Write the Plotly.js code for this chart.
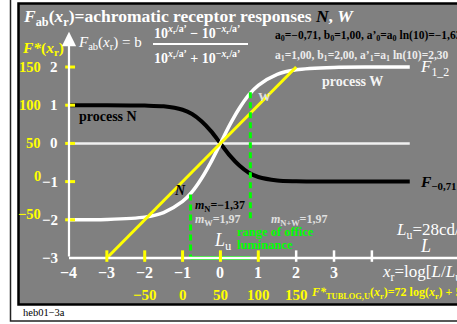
<!DOCTYPE html>
<html>
<head>
<meta charset="utf-8">
<script src="https://cdn.plot.ly/plotly-3.0.1.min.js"></script>
<style>html,body{margin:0;padding:0;background:#fff}</style>
</head>
<body>
<div id="chart" style="width:457px;height:324px"></div>
<script>
// curves (x = log[L/Lu])
const xCurve = [-4, -3, -2, -1.5, -1, -0.75, -0.5, -0.25, 0, 0.25, 0.5, 0.75, 1, 1.5, 2, 3, 4, 5];
const yN = [1, 1, 0.99, 0.97, 0.88, 0.77, 0.58, 0.32, 0, -0.32, -0.58, -0.77, -0.88, -0.97, -0.99, -1, -1, -1];
const yW = [-2, -1.99, -1.93, -1.81, -1.52, -1.27, -0.92, -0.49, 0, 0.49, 0.92, 1.27, 1.52, 1.81, 1.93, 1.99, 2, 2];
const xYellow = [-3, 2];
const yYellow = [-3, 2];
const xZero = [-4, 5];
const yZero = [0, 0];
const officeX = [-0.79, 0.79];
const officeY = [-1.34, 1.34];
const officeBottom = [-3, -2.0];

const xTicks = [-4, -3, -2, -1, 0, 1, 2, 3];
const xTickMarksYellow = [-3, -2, -1, 0, 1];
const xTickMarksWhite = [2, 3, 4];
const yTicks = [2, 1, 0, -1, -2, -3];
const yTickMarks = [2, 1, 0, -1, -2];
const fLeft = [150, 100, 50, 0, -50];
const fBottom = [-50, 0, 50, 100, 150];

const W = 457, H = 324;
const SERIF = 'Liberation Serif, Times New Roman, serif';
const px = p => p / W, py = p => 1 - p / H;
const minus = v => String(v).replace('-', '\u2212');

function ann(x, y, text, size, color, extra) {
  return Object.assign({xref:'paper', yref:'paper', x:px(x), y:py(y), text, showarrow:false,
    xanchor:'left', yanchor:'middle', font:{family:SERIF, size, color}}, extra || {});
}

const line = (x, y, color, width, extra) => Object.assign({type:'scatter', mode:'lines', x, y,
  line:{color, width}, hoverinfo:'skip'}, extra || {});

const traces = [
  line(xZero, yZero, '#f0f0f0', 2.5),
  line(xCurve, yN, '#000', 4, {line:{color:'#000', width:4, shape:'spline', smoothing:0.8}}),
  line(xCurve, yW, '#fff', 3.5, {line:{color:'#fff', width:3.5, shape:'spline', smoothing:0.8}}),
  line(xYellow, yYellow, '#ffff00', 3),
  line([officeX[0], officeX[0]], [officeY[0], officeBottom[0]], '#00ff00', 3, {line:{color:'#00ff00', width:3, dash:'6px,4px'}}),
  line([officeX[1], officeX[1]], [officeY[1], officeBottom[1]], '#00ff00', 3, {line:{color:'#00ff00', width:3, dash:'6px,4px'}}),
  line(officeX, [officeBottom[0], officeBottom[0]], '#00ff00', 3.5)
];

const shapes = [
  {type:'rect', xref:'paper', yref:'paper', x0:px(10.5), x1:px(480), y0:py(-5), y1:py(321), line:{color:'#222', width:1.5}, layer:'below'},
  {type:'rect', xref:'paper', yref:'paper', x0:px(18.5), x1:px(480), y0:py(3.5), y1:py(304.5), fillcolor:'#808080', line:{color:'#000', width:2.5}, layer:'below'},
  // x axis
  {type:'line', xref:'x', yref:'y', x0:-4, x1:7, y0:-3, y1:-3, line:{color:'#fff', width:2.5}},
  // fraction bar
  {type:'line', xref:'paper', yref:'paper', x0:px(153), x1:px(248), y0:py(44), y1:py(44), line:{color:'#fff', width:2}}
];
xTickMarksYellow.forEach(t => shapes.push({type:'line', xref:'x', yref:'y', x0:t, x1:t, y0:-2.8, y1:-3.1, line:{color:'#ffff00', width:3}}));
xTickMarksWhite.forEach(t => shapes.push({type:'line', xref:'x', yref:'y', x0:t, x1:t, y0:-2.8, y1:-3.1, line:{color:'#fff', width:2.5}}));
yTickMarks.forEach(t => shapes.push({type:'line', xref:'x', yref:'y', x0:-4.1, x1:-3.84, y0:t, y1:t, line:{color:'#ffff00', width:3}}));

const annotations = [
  // y axis with arrow
  {xref:'x', yref:'y', axref:'x', ayref:'y', x:-4, y:2.92, ax:-4, ay:-3, text:'', showarrow:true,
   arrowhead:2, arrowsize:1.3, arrowwidth:2.2, arrowcolor:'#fff'},
  ann(21, 17, '<b><i>F</i><sub>ab</sub>(<i>x</i><sub>r</sub>)=achromatic receptor responses <i><span style="color:#000">N</span></i>, <i>W</i></b>', 17.5, '#fff'),
  ann(20, 48, '<b><i>F*</i>(<i>x</i><sub>r</sub>)</b>', 15.5, '#ffff00'),
  ann(76, 43, '<i>F</i><sub>ab</sub>(<i>x</i><sub>r</sub>) = b', 15, '#fff'),
  ann(152, 32, '<b>10<sup><i>x</i><sub>r</sub>/a’</sup> − 10<sup>−<i>x</i><sub>r</sub>/a’</sup></b>', 14, '#fff'),
  ann(152, 57, '<b>10<sup><i>x</i><sub>r</sub>/a’</sup> + 10<sup>−<i>x</i><sub>r</sub>/a’</sup></b>', 14, '#fff'),
  ann(273, 36, '<b>a<sub>0</sub>=−0,71, b<sub>0</sub>=1,00, a’<sub>0</sub>=a<sub>0</sub> ln(10)=−1,63</b>', 11.5, '#000'),
  ann(273, 56, '<b>a<sub>1</sub>=1,00, b<sub>1</sub>=2,00, a’<sub>1</sub>=a<sub>1</sub> ln(10)=2,30</b>', 11.5, '#ececec'),
  ann(418, 68, '<i>F</i><sub>1_2</sub>', 17, '#fff'),
  ann(320, 81, '<b>process W</b>', 14, '#f4f4f4'),
  ann(77, 116, '<b>process N</b>', 14, '#000'),
  ann(256, 96, '<b>W</b>', 13, '#e0e0e0'),
  ann(172, 191, '<b><i>N</i></b>', 14, '#000'),
  ann(418, 182, '<i><b>F</b></i><sub><b>−0,71</b></sub>', 15.5, '#000'),
  ann(193, 206, '<b><i>m</i><sub>N</sub>=−1,37</b>', 12, '#000'),
  ann(193, 220, '<b><i>m</i><sub>W</sub>=1,97</b>', 12, '#e0e0e0'),
  ann(269, 220, '<b><i>m</i><sub>N+W</sub>=1,97</b>', 12, '#e0e0e0'),
  ann(235, 232, '<b>range of office</b>', 12.5, '#00ff00'),
  ann(235, 245, '<b>luminance</b>', 12.5, '#00ff00'),
  ann(212, 241, '<i>L</i><sub>u</sub>', 18, '#fff'),
  ann(394, 229, '<i>L</i><sub>u</sub>=28cd/m<sup>2</sup>', 17, '#fff'),
  ann(418, 246, '<i>L</i>', 18, '#fff'),
  ann(380, 273, '<i>x</i><sub>r</sub>=log[<i>L</i>/<i>L</i><sub>u</sub>]', 17, '#fff'),
  ann(309, 293, '<b><i>F*</i><sub>TUBLOG,U</sub>(<i>x</i><sub>r</sub>)=72 log(<i>x</i><sub>r</sub>) + 50</b>', 12, '#ffff00'),
  ann(21, 312, 'heb01−3a', 10.5, '#000')
];

xTicks.forEach(t => annotations.push({xref:'x', yref:'y', x:t, y:-3, yshift:-15, text:'<b>' + minus(t) + '</b>',
  showarrow:false, xanchor:'center', yanchor:'middle', font:{family:SERIF, size:16, color:'#fff'}}));
yTicks.forEach(t => annotations.push({xref:'x', yref:'y', x:-4, y:t, xshift:-9, text:'<b>' + minus(t) + '</b>',
  showarrow:false, xanchor:'right', yanchor:'middle', font:{family:SERIF, size:15, color:'#fff'}}));
fLeft.forEach(f => annotations.push({xref:'x', yref:'y', x:-4, y:f / 50 - 1, xshift:-26, yshift:f <= 0 ? 6 : 0,
  text:'<b>' + minus(f) + '</b>', showarrow:false, xanchor:'right', yanchor:'middle',
  font:{family:SERIF, size:14.5, color:'#ffff00'}}));
fBottom.forEach(f => annotations.push({xref:'x', yref:'y', x:f / 50 - 1, y:-3, yshift:-37, text:'<b>' + minus(f) + '</b>',
  showarrow:false, xanchor:'center', yanchor:'middle', font:{family:SERIF, size:15, color:'#ffff00'}}));

const layout = {
  width:W, height:H, margin:{l:0, r:0, t:0, b:0}, showlegend:false,
  paper_bgcolor:'#fff', plot_bgcolor:'#fff',
  xaxis:{visible:false, range:[-5.822, 6.248], fixedrange:true},
  yaxis:{visible:false, range:[-4.728, 3.754], fixedrange:true},
  shapes, annotations
};

Plotly.newPlot('chart', traces, layout, {staticPlot:true});
</script>
</body>
</html>
